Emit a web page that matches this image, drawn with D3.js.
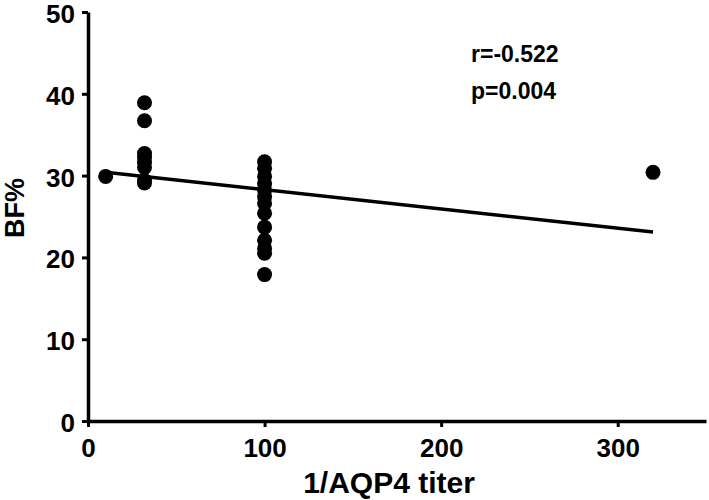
<!DOCTYPE html>
<html><head><meta charset="utf-8">
<script src="https://cdn.jsdelivr.net/npm/d3@7"></script>
<style>body{margin:0;background:#fff}svg{display:block}text{font-family:"Liberation Sans",Arial,sans-serif;font-weight:bold}</style>
</head><body>
<script>
const titerX = [10, 32,32,32,32,32,32,32,32, 100,100,100,100,100,100,100,100,100,100,100,100,100, 320];
const bfY = [29.9, 38.9,36.7,32.7,32.2,31.6,31.0,29.4,29.1, 31.7,30.9,29.9,29.0,28.2,27.4,26.6,25.4,23.7,22.1,21.1,20.5,17.9, 30.4];
const fitX = [10, 320];
const fitY = [30.4, 23.1];
const xTicks = [0, 100, 200, 300];
const yTicks = [0, 10, 20, 30, 40, 50];
const stats = ["r=-0.522", "p=0.004"];

const W = 709, H = 500;
const svg = d3.select("body").append("svg").attr("width", W).attr("height", H);
const x = d3.scaleLinear().domain([0, 350]).range([88, 706]);
const y = d3.scaleLinear().domain([0, 50]).range([421, 12]);

const xa = svg.append("g").attr("transform", `translate(0,${y(0)})`)
  .call(d3.axisBottom(x).tickValues(xTicks).tickSize(6).tickSizeOuter(0));
const ya = svg.append("g").attr("transform", `translate(${x(0)},0)`)
  .call(d3.axisLeft(y).tickValues(yTicks).tickSize(6).tickSizeOuter(0));
[xa, ya].forEach(a => {
  a.attr("font-size", null).attr("font-family", null);
  a.select(".domain").attr("stroke", "#000").attr("stroke-width", 3.5);
  a.selectAll(".tick line").attr("stroke", "#000").attr("stroke-width", 3);
  a.selectAll(".tick text").attr("fill", "#000").style("font-size", "26px");
});
xa.selectAll(".tick text").attr("y", 36).attr("dy", 0);
ya.selectAll(".tick text").attr("x", -13).attr("dy", "0.4em");

svg.append("line")
  .attr("x1", x(fitX[0])).attr("y1", y(fitY[0]))
  .attr("x2", x(fitX[1])).attr("y2", y(fitY[1]))
  .attr("stroke", "#000").attr("stroke-width", 3.5);

svg.append("g").selectAll("circle").data(titerX).join("circle")
  .attr("cx", d => x(d)).attr("cy", (d, i) => y(bfY[i])).attr("r", 7.5).attr("fill", "#000");

svg.append("g").selectAll("text").data(stats).join("text")
  .attr("x", 471).attr("y", (d, i) => 62 + i * 37)
  .style("font-size", "23px").attr("fill", "#000").text(d => d);

svg.append("text").attr("x", 389).attr("y", 493).attr("text-anchor", "middle")
  .style("font-size", "30px").text("1/AQP4 titer");
svg.append("text").attr("transform", "translate(24,208) rotate(-90)").attr("text-anchor", "middle")
  .style("font-size", "27px").text("BF%");
</script>
</body></html>
